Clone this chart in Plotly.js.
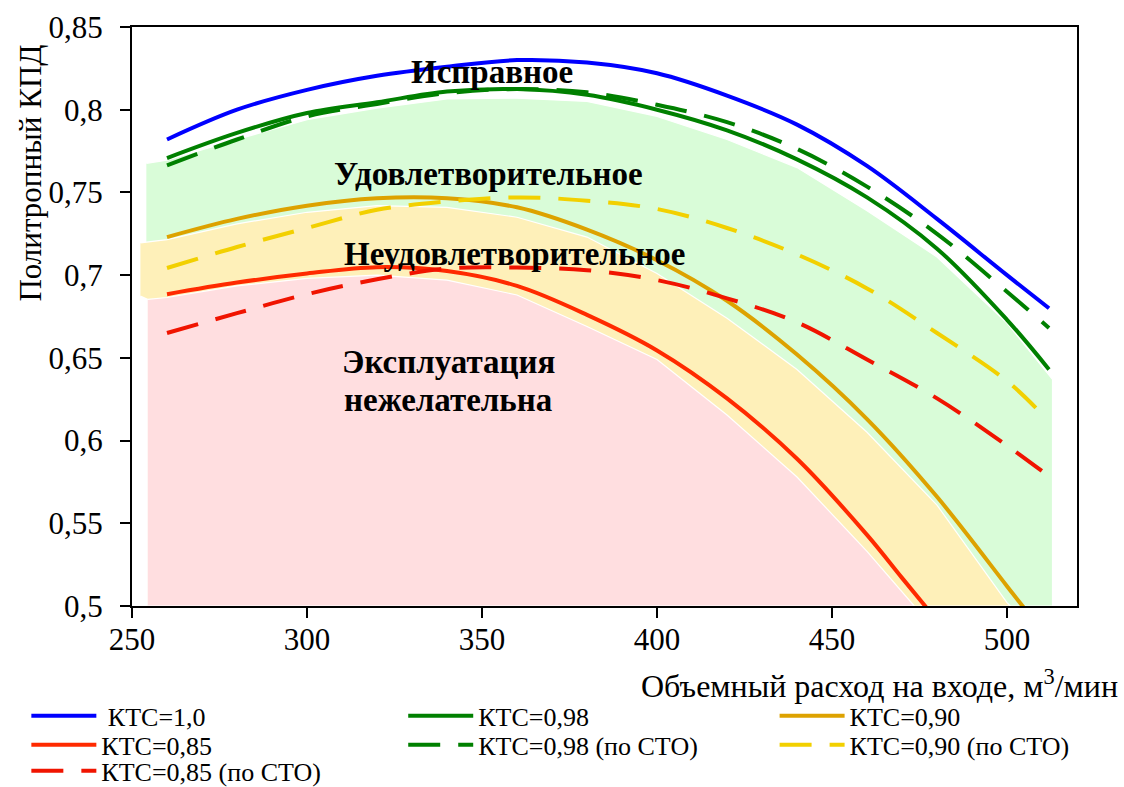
<!DOCTYPE html>
<html>
<head>
<meta charset="utf-8">
<script src="https://cdn.plot.ly/plotly-3.0.1.min.js"></script>
<style>html,body{margin:0;padding:0;background:#fff;}#chart{width:1124px;height:787px;}</style>
</head>
<body>
<div id="chart"></div>
<script>
// ---- data ----
const flowMain = [260,280,300,320,340,360,380,400,420,440,460,480,500,512];
const ktc100 = [0.782,0.800,0.812,0.8205,0.826,0.830,0.8285,0.822,0.8085,0.791,0.766,0.734,0.700,0.680];
const ktc098 = [0.7708,0.786,0.798,0.8045,0.811,0.8125,0.809,0.800,0.7875,0.770,0.747,0.716,0.673,0.643];
const ktc098sto = [0.7664,0.782,0.796,0.8035,0.810,0.8125,0.8105,0.803,0.7925,0.7763,0.7535,0.725,0.690,0.668];

const flowKtc090 = [260,280,300,320,340,360,380,400,420,440,460,480,500,505];
const ktc090 = [0.723,0.734,0.742,0.7465,0.7465,0.741,0.7275,0.709,0.6845,0.652,0.613,0.566,0.512,0.4985];

const flowKtc090sto = [260,280,300,320,340,360,380,400,420,440,460,480,500,510];
const ktc090sto = [0.7043,0.717,0.7285,0.7395,0.7445,0.747,0.745,0.740,0.7285,0.7125,0.692,0.665,0.636,0.616];

const flowKtc085 = [260,280,300,320,340,360,380,400,420,440,460,470,477];
const ktc085 = [0.6885,0.6955,0.701,0.7048,0.7025,0.6935,0.676,0.6545,0.6255,0.589,0.543,0.517,0.499];

const flowKtc085sto = [260,280,300,320,340,360,380,400,420,440,460,480,500,511];
const ktc085sto = [0.665,0.677,0.6885,0.6975,0.704,0.7046,0.703,0.697,0.686,0.6715,0.649,0.6255,0.597,0.580];

// zone boundaries (upper edges of the shaded areas)
const zoneBase = 0.5;
const greenZoneX = [254.1,260,280,300,320,340,360,380,400,420,440,460,480,500,513];
const greenZoneTop = [0.7676,0.7695,0.782,0.794,0.801,0.8065,0.807,0.805,0.796,0.782,0.765,0.739,0.711,0.671,0.637];
const yellowZoneX = [252.4,260,280,300,320,340,360,380,400,420,440,460,480,500,501];
const yellowZoneTop = [0.7195,0.7215,0.731,0.738,0.742,0.741,0.735,0.723,0.701,0.674,0.643,0.605,0.561,0.502,0.5];
const yellowZoneLeftBottom = 0.6873;
const pinkZoneX = [254.5,260,280,300,320,340,360,380,400,420,440,460,473.5];
const pinkZoneTop = [0.6853,0.6865,0.6935,0.698,0.700,0.697,0.688,0.669,0.649,0.6155,0.578,0.533,0.5];

const seriesNames = [' КТС=1,0','КТС=0,98','КТС=0,90','КТС=0,85','КТС=0,98 (по СТО)','КТС=0,90 (по СТО)','КТС=0,85 (по СТО)'];
const zoneLabels = ['Исправное','Удовлетворительное','Неудовлетворительное','Эксплуатация','нежелательна'];
const xTitle = 'Объемный расход на входе, м<sup>3</sup>/мин';
const yTitle = 'Политропный КПД';

// ---- build zone polygons ----
const last = a => a[a.length-1];
const pinkLeft = pinkZoneX[0];
function zone(xs, ys, color, extraX, extraY){
  return {x: xs.concat(extraX), y: ys.concat(extraY), mode:'lines', fill:'toself', fillcolor:color,
    line:{color:'#ffffff', width:1.2}, showlegend:false, hoverinfo:'skip'};
}
const greenZone = zone(greenZoneX, greenZoneTop, '#D9FCD8',
  [last(greenZoneX), pinkLeft, pinkLeft, greenZoneX[0]],
  [zoneBase, zoneBase, yellowZoneLeftBottom, yellowZoneLeftBottom]);
const yellowZone = zone(yellowZoneX, yellowZoneTop, '#FEF0B9',
  [pinkLeft, pinkLeft, yellowZoneX[0]],
  [zoneBase, pinkZoneTop[0], yellowZoneLeftBottom]);
const pinkZone = zone(pinkZoneX, pinkZoneTop, '#FFDEE0',
  [pinkLeft], [zoneBase]);

function line(x, y, name, color, dash, legendId){
  return {x:x, y:y, name:name, legend:legendId, mode:'lines',
    line:{color:color, width:4, dash:dash, shape:'spline', smoothing:1}, hoverinfo:'skip'};
}
const DASH = '32px,18px';
const traces = [
  greenZone, yellowZone, pinkZone,
  line(flowMain, ktc100, seriesNames[0], '#0000FF', 'solid', 'legend'),
  line(flowMain, ktc098, seriesNames[1], '#008000', 'solid', 'legend2'),
  line(flowKtc090, ktc090, seriesNames[2], '#DDA200', 'solid', 'legend3'),
  line(flowKtc085, ktc085, seriesNames[3], '#FF2A00', 'solid', 'legend4'),
  line(flowMain, ktc098sto, seriesNames[4], '#008000', DASH, 'legend5'),
  line(flowKtc090sto, ktc090sto, seriesNames[5], '#F2D000', DASH, 'legend6'),
  line(flowKtc085sto, ktc085sto, seriesNames[6], '#F01400', DASH, 'legend7')
];

const FONT = '"Liberation Serif", "Times New Roman", Times, serif';
const bold = {family: FONT, size: 33, color:'#000', weight: 700};
const legendFont = {family:FONT, size:26, color:'#000'};
// legend grid: column left edges and row centres (paper fractions)
const legendCols = [-0.1118, 0.287, 0.680];
const legendRows = [-0.1899, -0.2400, -0.2849];
function legendAt(col, row){
  return {orientation:'v', x:legendCols[col], xanchor:'left', y:legendRows[row], yanchor:'middle', font:legendFont,
    itemwidth:65, bgcolor:'rgba(0,0,0,0)', borderwidth:0, tracegroupgap:0};
}
const layout = {
  width:1124, height:787,
  margin:{l:132, r:47, t:27, b:181, autoexpand:false},
  paper_bgcolor:'#fff', plot_bgcolor:'#fff',
  separators: ', ',
  font:{family:FONT, size:28, color:'#000'},
  xaxis:{range:[250,520], dtick:50, tick0:250, showgrid:false, zeroline:false,
    showline:true, linecolor:'#000', linewidth:2, mirror:true,
    ticks:'outside', ticklen:10, tickwidth:2, tickcolor:'#000', ticklabelstandoff:-5,
    tickfont:{family:FONT, size:31, color:'#000'}},
  yaxis:{range:[0.5,0.85], dtick:0.05, tick0:0.5, showgrid:false, zeroline:false,
    showline:true, linecolor:'#000', linewidth:2, mirror:true,
    ticks:'outside', ticklen:10, tickwidth:2, tickcolor:'#000', ticklabelstandoff:11,
    tickfont:{family:FONT, size:31, color:'#000'}},
  showlegend:true,
  legend: legendAt(0,0), legend2: legendAt(1,0), legend3: legendAt(2,0),
  legend4: legendAt(0,1), legend5: legendAt(1,1), legend6: legendAt(2,1),
  legend7: legendAt(0,2),
  annotations:[
    {text:zoneLabels[0], x:352.9, y:0.8226, xref:'x', yref:'y', showarrow:false, font:bold},
    {text:zoneLabels[1], x:351.8, y:0.7609, xref:'x', yref:'y', showarrow:false, font:bold},
    {text:zoneLabels[2], x:359.5, y:0.7125, xref:'x', yref:'y', showarrow:false, font:bold},
    {text:zoneLabels[3], x:340.4, y:0.6474, xref:'x', yref:'y', showarrow:false, font:bold},
    {text:zoneLabels[4], x:340.4, y:0.6244, xref:'x', yref:'y', showarrow:false, font:bold},
    {text:xTitle, xref:'paper', yref:'paper', x:1.045, xanchor:'right', y:-0.1346, yanchor:'middle',
      showarrow:false, font:{family:FONT, size:32, color:'#000'}},
    {text:yTitle, xref:'paper', yref:'paper', x:-0.1075, xanchor:'center', y:0.7475, yanchor:'middle',
      textangle:-90, showarrow:false, font:{family:FONT, size:31, color:'#000'}}
  ]
};
Plotly.newPlot('chart', traces, layout, {displayModeBar:false, staticPlot:true});
</script>
</body>
</html>
